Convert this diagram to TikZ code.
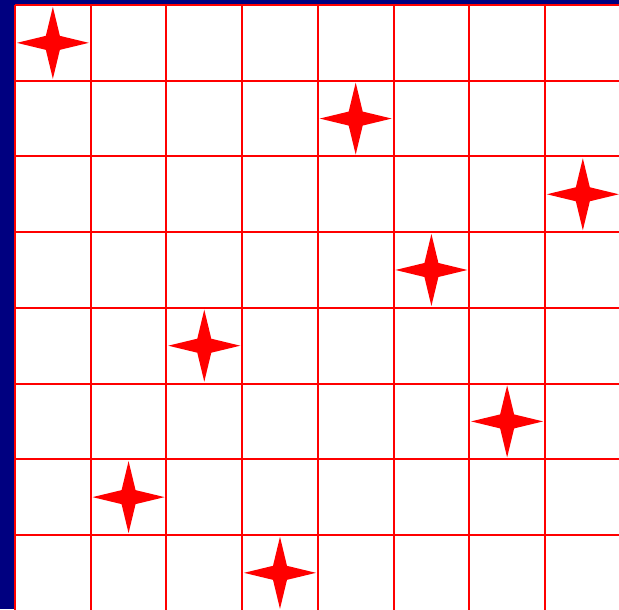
\documentclass[tikz,border=0pt]{standalone}
\usetikzlibrary{calc}
\definecolor{boardnavy}{RGB}{0,0,128}
\begin{document}
\begin{tikzpicture}[
  x=0.5pt, y=-0.5pt,
  gridline/.style={draw=red, line width=1pt},
  queen/.style={fill=red}
]
\useasboundingbox (0,0) rectangle (619,609);
\clip (0,0) rectangle (619,609);
\fill[boardnavy] (0,0) rectangle (619,609);
\fill[white] (15,5) rectangle (621,611);

\def\cell{75.71}
\foreach \i in {0,...,8} {
  \draw[gridline] ({15+\i*\cell},5) -- ({15+\i*\cell},611);
  \draw[gridline] (15,{5+\i*\cell}) -- (621,{5+\i*\cell});
}

% one queen per row: row/column
\foreach \row/\col in {0/0, 1/4, 2/7, 3/5, 4/2, 5/6, 6/1, 7/3} {
  \coordinate (q\row) at ({15+(\col+0.5)*\cell},{5+(\row+0.5)*\cell});
  \fill[queen, shift={(q\row)}] (0,-36) -- (7,-7) -- (36,0) -- (7,7)
    -- (0,36) -- (-7,7) -- (-36,0) -- (-7,-7) -- cycle;
}
\end{tikzpicture}
\end{document}
